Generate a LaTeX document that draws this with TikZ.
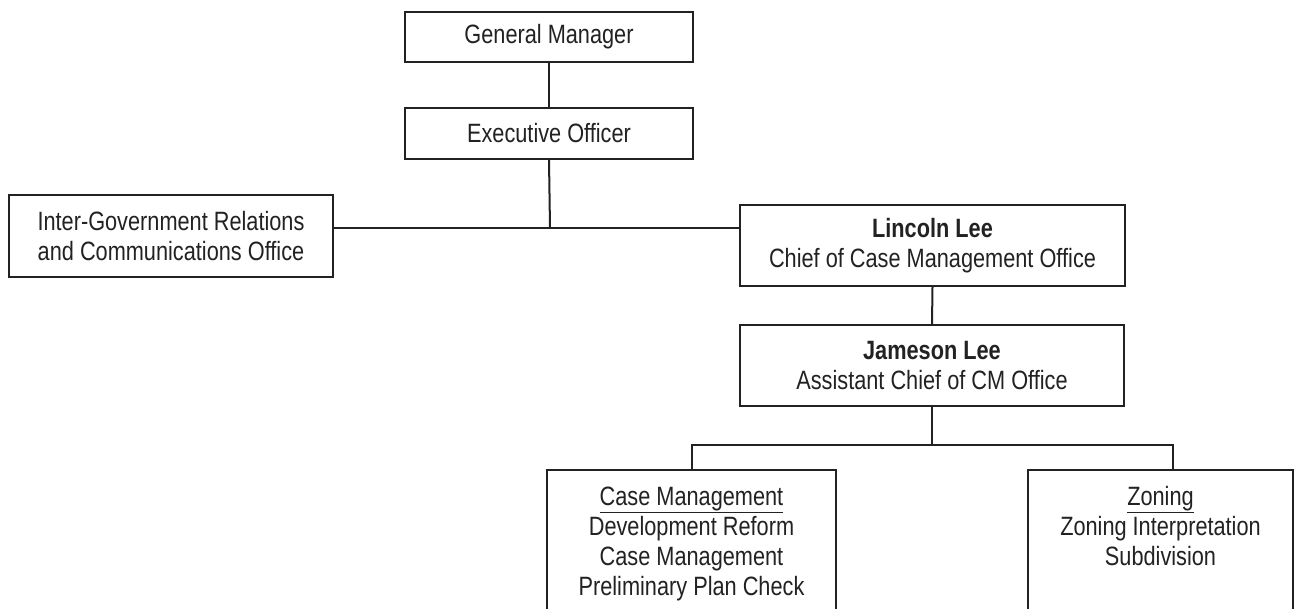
\documentclass[tikz,border=0pt]{standalone}
\usepackage{fontspec}
\setmainfont{Liberation Sans}[FakeStretch=0.82]
\usetikzlibrary{calc}
\definecolor{ink}{HTML}{222222}
\begin{document}
\begin{tikzpicture}[x=1pt,y=-1pt,
  orgbox/.style={draw=ink, line width=2pt, rectangle, inner sep=0pt,
    align=center, text=ink, font=\fontsize{26.5}{30}\selectfont},
  label/.style={text=ink, align=center, inner sep=0pt,
    font=\fontsize{26.5}{30}\selectfont},
  link/.style={draw=ink, line width=2pt}]
\useasboundingbox (0,0) rectangle (1298,609);
\fill[white] (0,0) rectangle (1298,609);
\clip (0,0) rectangle (1298,609);

% top of the chart
\node[orgbox, minimum width=288, minimum height=50] (gm) at (549,37) {General Manager};
\node[orgbox, minimum width=288, minimum height=51] (eo) at (549,133.5) {Executive Officer};
\node[orgbox, minimum width=324, minimum height=82] (igr) at (171,236)
  {Inter-Government Relations\\and Communications Office};
\node[orgbox, minimum width=385, minimum height=81] (ll) at (932.5,245.5)
  {\textbf{Lincoln Lee}\\Chief of Case Management Office};
\node[orgbox, minimum width=384, minimum height=81] (jl) at (932,365.5)
  {\textbf{Jameson Lee}\\Assistant Chief of CM Office};

% sections, running off the bottom edge
\node[orgbox, minimum width=289, minimum height=200, anchor=north] (cm) at (691.5,469) {};
\node[orgbox, minimum width=265, minimum height=200, anchor=north] (zn) at (1160.5,469) {};
% base anchor of a multi-line label sits on its last line
\node[label, anchor=base] (cmtext) at ($(cm.north)+(0,126)$)
  {\underline{Case Management}\\Development Reform\\Case Management\\Preliminary Plan Check};
\node[label, anchor=base] (zntext) at ($(zn.north)+(0,96)$)
  {\underline{Zoning}\\Zoning Interpretation\\Subdivision};

% connectors
\coordinate (j) at (550,228);
\coordinate (bus) at (932,445);
\draw[link] (gm.south) -- (eo.north);
\draw[link] (eo.south) -- (j);
\draw[link] (igr.east |- j) -- (ll.west |- j);
\draw[link] (ll.south) -- (jl.north);
\draw[link] (jl.south) -- (bus);
\draw[link] (cm.north) |- (bus) -| ([xshift=12.5]zn.north);
\end{tikzpicture}
\end{document}
